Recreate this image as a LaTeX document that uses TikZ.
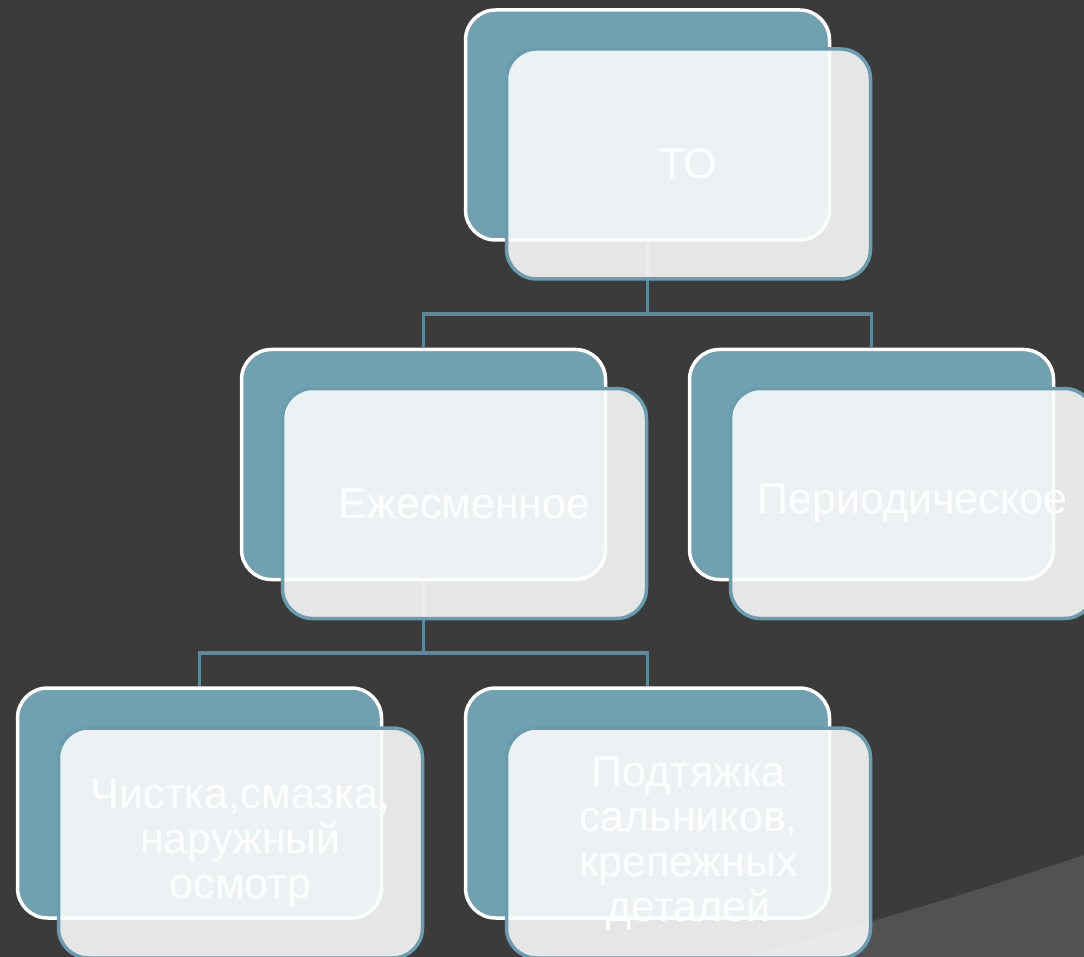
\documentclass[tikz,border=0pt]{standalone}
\usepackage{fontspec}
\setmainfont{Liberation Sans}
\usepackage{tikz}
\usetikzlibrary{positioning}
\definecolor{slidedark}{RGB}{59,59,59}
\definecolor{slidegray}{RGB}{82,82,82}
\definecolor{tealback}{RGB}{111,161,176}
\definecolor{tealedge}{RGB}{104,156,174}
\definecolor{tealline}{RGB}{92,138,153}

\begin{document}
\begin{tikzpicture}[
    x=1pt, y=-1pt,
    backbox/.style={draw=white, line width=3.5pt, rounded corners=30pt, fill=tealback,
        minimum width=364pt, minimum height=230pt},
    frontbox/.style={draw=tealedge, line width=3.5pt, rounded corners=30pt, fill=white!99!black,
        fill opacity=0.89, text opacity=1, text=white, align=center,
        minimum width=364pt, minimum height=230pt, font=\fontsize{43}{45}\selectfont},
    conn/.style={draw=tealline, line width=3.5pt},
]
    % Slide background
    \useasboundingbox (0,0) rectangle (1084,957);
    \clip (0,0) rectangle (1084,957);
    \fill[slidedark] (0,0) rectangle (1084,957);
    \fill[slidegray] (745,957) .. controls (880,920) and (980,890) .. (1084,855) -- (1084,957) -- cycle;

    % Back boxes
    \node[backbox] (tob) at (647.5,125) {};
    \node[backbox] (dailyb) at (423.5,464.5) {};
    \node[backbox] (periodb) at (871.5,464.5) {};
    \node[backbox] (cleanb) at (199.5,803) {};
    \node[backbox] (tightb) at (647.5,803) {};

    % Connectors
    \coordinate (split1) at (647.5,314);
    \coordinate (split2) at (423.5,653);
    \draw[conn] (tob.south) -- (split1);
    \draw[conn] (split1) -| (dailyb.north);
    \draw[conn] (split1) -| (periodb.north);
    \draw[conn] (dailyb.south) -- (split2);
    \draw[conn] (split2) -| (cleanb.north);
    \draw[conn] (split2) -| (tightb.north);

    % Front boxes with text
    \node[frontbox] (to) at (688.5,164) {ТО};
    \node[frontbox] (daily) at (464.5,503.5) {Ежесменное};
    \node[frontbox] (period) at (912.5,503.5) {Периодическое};
    \node[frontbox] (clean) at (240.5,843) {Чистка,смазка,\\наружный\\осмотр};
    \node[frontbox] (tight) at (688.5,843) {Подтяжка\\сальников,\\крепежных\\деталей};
\end{tikzpicture}
\end{document}
